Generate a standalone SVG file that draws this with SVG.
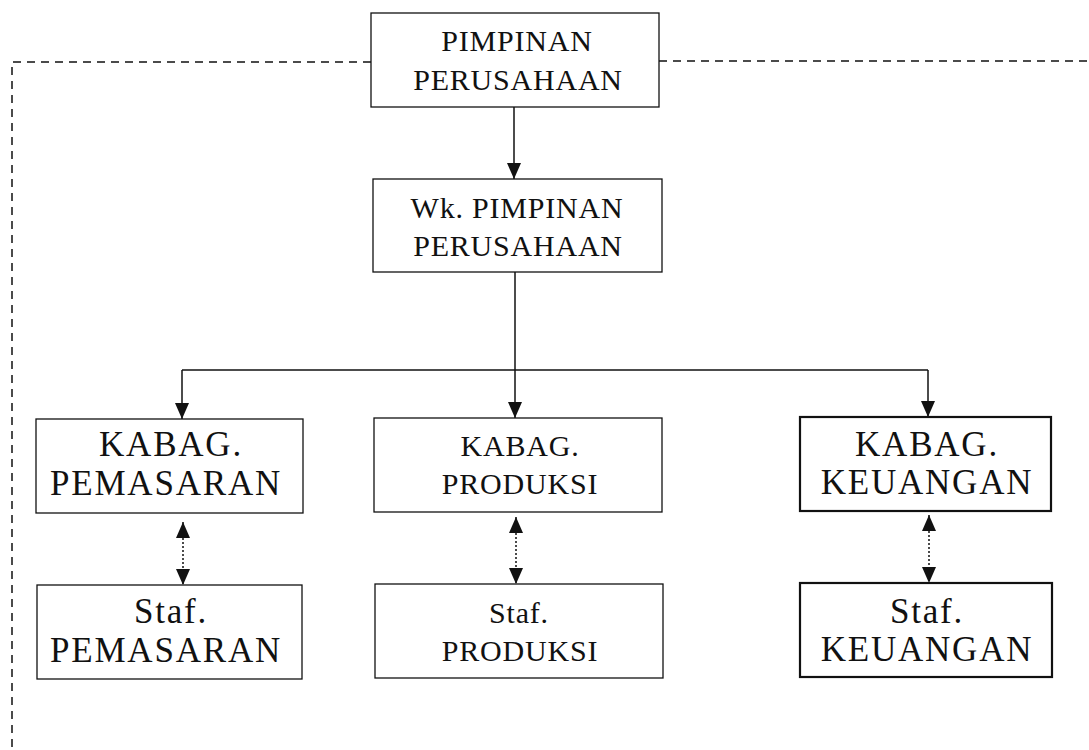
<svg xmlns="http://www.w3.org/2000/svg" width="1089" height="750" viewBox="0 0 1089 750">
<style>
.box{fill:#fff;stroke:#111;stroke-width:1.3}
.bold{stroke-width:2.2}
.t{font-family:"Liberation Serif","Times New Roman",serif;font-size:30px;letter-spacing:0.8px;fill:#111;text-anchor:middle}
.big{font-size:35px;letter-spacing:1.8px}
.ln{fill:none;stroke:#111;stroke-width:1.5}
.dot{fill:none;stroke:#111;stroke-width:1.5;stroke-dasharray:2 2}
.dash{fill:none;stroke:#111;stroke-width:1.5;stroke-dasharray:8 6}
</style>
<defs>
<marker id="ah" viewBox="0 0 16 14" refX="16" refY="7" markerWidth="16" markerHeight="14" markerUnits="userSpaceOnUse" orient="auto-start-reverse">
<path d="M0,0 L16,7 L0,14 z" fill="#111"/>
</marker>
</defs>
<g id="connectors">
<path class="dash" d="M371,62 H12 V750"/>
<path class="dash" d="M659,61 H1089"/>
<path class="ln" d="M514,107 V179" marker-end="url(#ah)"/>
<path class="ln" d="M515,272 V370"/>
<path class="ln" d="M182,370 H928"/>
<path class="ln" d="M182,370 V419" marker-end="url(#ah)"/>
<path class="ln" d="M515,370 V418" marker-end="url(#ah)"/>
<path class="ln" d="M928,370 V417" marker-end="url(#ah)"/>
<path class="dot" d="M183,522 V585" marker-start="url(#ah)" marker-end="url(#ah)"/>
<path class="dot" d="M516,517 V584" marker-start="url(#ah)" marker-end="url(#ah)"/>
<path class="dot" d="M929,515 V583" marker-start="url(#ah)" marker-end="url(#ah)"/>
</g>
<g id="pimpinan">
<rect class="box" x="371" y="13" width="288" height="94"/>
<text class="t" x="517" y="51">PIMPINAN</text>
<text class="t" x="518" y="90">PERUSAHAAN</text>
</g>
<g id="wk-pimpinan">
<rect class="box" x="373" y="179" width="289" height="93"/>
<text class="t" x="517" y="218">Wk. PIMPINAN</text>
<text class="t" x="518" y="256">PERUSAHAAN</text>
</g>
<g id="kabag-pemasaran">
<rect class="box" x="36" y="419" width="267" height="94"/>
<text class="t big" x="171" y="456">KABAG.</text>
<text class="t big" x="166" y="495">PEMASARAN</text>
</g>
<g id="kabag-produksi">
<rect class="box" x="374" y="418" width="288" height="94"/>
<text class="t" x="520" y="456">KABAG.</text>
<text class="t" x="520" y="494">PRODUKSI</text>
</g>
<g id="kabag-keuangan">
<rect class="box bold" x="800" y="417" width="251" height="94"/>
<text class="t big" x="927" y="456">KABAG.</text>
<text class="t big" x="927" y="494">KEUANGAN</text>
</g>
<g id="staf-pemasaran">
<rect class="box" x="37" y="585" width="265" height="94"/>
<text class="t big" x="171" y="623">Staf.</text>
<text class="t big" x="166" y="662">PEMASARAN</text>
</g>
<g id="staf-produksi">
<rect class="box" x="375" y="584" width="288" height="94"/>
<text class="t" x="519" y="623">Staf.</text>
<text class="t" x="520" y="661">PRODUKSI</text>
</g>
<g id="staf-keuangan">
<rect class="box bold" x="800" y="583" width="252" height="94"/>
<text class="t big" x="927" y="623">Staf.</text>
<text class="t big" x="927" y="661">KEUANGAN</text>
</g>
</svg>
